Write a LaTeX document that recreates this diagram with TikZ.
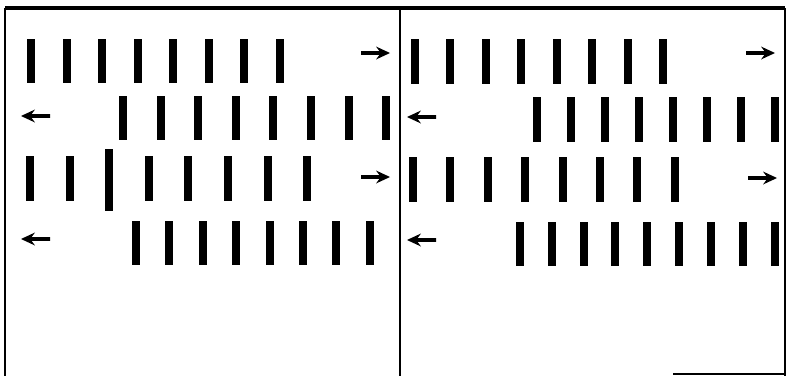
\documentclass[tikz,border=0pt]{standalone}
\usetikzlibrary{arrows.meta}
\tikzset{
  bar/.style={rectangle, fill=black, inner sep=0pt, minimum width=8pt, minimum height=44pt},
  tallbar/.style={bar, minimum height=62pt},
  motionarrow/.pic={\fill[black] (0,0) -- (-14,-6.5) -- (-10.5,-1.8) -- (-29,-1.8) -- (-29,1.8) -- (-10.5,1.8) -- (-14,6.5) -- cycle;},
  frameline/.style={line width=#1, black},
}
\begin{document}
\begin{tikzpicture}[x=1pt,y=-1pt]
\useasboundingbox (0,0) rectangle (788,376);
% frame
\coordinate (tl) at (5,8);
\coordinate (tr) at (785,8);
\coordinate (bl) at (5,376);
\coordinate (br) at (785,376);
\coordinate (mt) at (400,8);
\coordinate (mb) at (400,376);
\coordinate (bs) at (673,374);
\coordinate (be) at (785,374);
\draw[frameline=3.5pt] (tl) -- (tr);
\draw[frameline=2pt] (tl) -- (bl);
\draw[frameline=2pt] (mt) -- (mb);
\draw[frameline=1.6pt] (tr) -- (br);
\draw[frameline=1.4pt] (bs) -- (be);
% left panel bars
\foreach \i in {1,...,8} \node[bar] (L1-\i) at ({31+35.5*(\i-1)},61) {};
\foreach \i in {1,...,8} \node[bar] (L2-\i) at ({123+37.6*(\i-1)},118) {};
\foreach \i in {1,2,4,5,6,7,8} \node[bar, minimum height=45pt] (L3-\i) at ({30+39.6*(\i-1)},178.5) {};
\node[tallbar] (L3-3) at (109.2,180) {};
\foreach \i in {1,...,8} \node[bar] (L4-\i) at ({136+33.4*(\i-1)},243) {};
% right panel bars
\foreach \i in {1,...,8} \node[bar, minimum height=45pt] (R1-\i) at ({414.5+35.5*(\i-1)},61.5) {};
\foreach \i in {1,...,8} \node[bar, minimum height=45pt] (R2-\i) at ({536.7+34*(\i-1)},119.5) {};
\foreach \i in {1,...,8} \node[bar, minimum height=45pt] (R3-\i) at ({413+37.4*(\i-1)},179.5) {};
\foreach \i in {1,...,9} \node[bar] (R4-\i) at ({519.7+31.9*(\i-1)},244) {};
% arrows (tip points)
\coordinate (a1e) at (390,53);
\coordinate (a2e) at (21,116);
\coordinate (a3e) at (390,177);
\coordinate (a4e) at (21,239);
\coordinate (b1e) at (775,53);
\coordinate (b2e) at (407,117);
\coordinate (b3e) at (777,178);
\coordinate (b4e) at (407,240);
\pic at (a1e) {motionarrow};
\pic[xscale=-1] at (a2e) {motionarrow};
\pic at (a3e) {motionarrow};
\pic[xscale=-1] at (a4e) {motionarrow};
\pic at (b1e) {motionarrow};
\pic[xscale=-1] at (b2e) {motionarrow};
\pic at (b3e) {motionarrow};
\pic[xscale=-1] at (b4e) {motionarrow};
\end{tikzpicture}
\end{document}
